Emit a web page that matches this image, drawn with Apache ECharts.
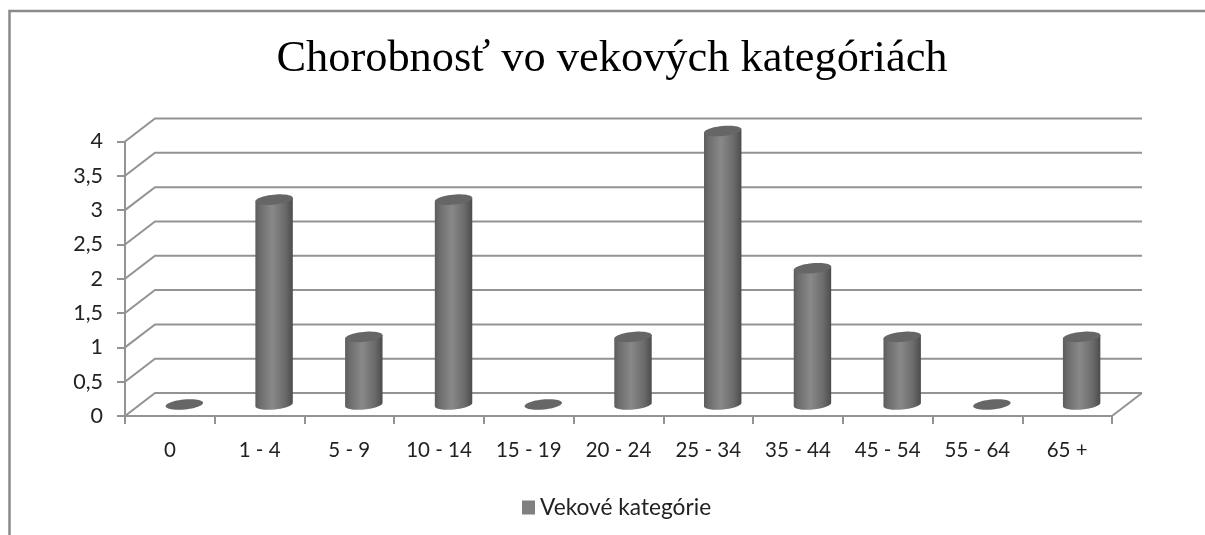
<!DOCTYPE html>
<html><head><meta charset="utf-8">
<style>html,body{margin:0;padding:0;background:#fff}#c{width:1205px;height:535px}</style>
<script src="https://cdn.jsdelivr.net/npm/echarts@6/dist/echarts.min.js"></script>
</head><body><div id="c"></div>
<script>
const categories = ['0','1 - 4','5 - 9','10 - 14','15 - 19','20 - 24','25 - 34','35 - 44','45 - 54','55 - 64','65 +'];
const values = [0,3,1,3,0,1,4,2,1,0,1];
const yTicks = [0,0.5,1,1.5,2,2.5,3,3.5,4];
const seriesName = 'Vekové kategórie';
const titleText = 'Chorobnosť vo vekových kategóriách';

const DEPTH_X = 30, DEPTH_Y = -23;
const LINE = '#939393';
const TILT = -5.5 * Math.PI / 180, RX = 18.8, RY = 5;
function ell(cx, cy, t) {
  const x = RX * Math.cos(t), y = RY * Math.sin(t);
  return [cx + x * Math.cos(TILT) - y * Math.sin(TILT), cy + x * Math.sin(TILT) + y * Math.cos(TILT)];
}
function renderWall(params, api) {
  const v = api.value(1);
  const y = api.coord([0, v])[1];
  const g = params.coordSys;
  const children = [{
    type: 'polyline',
    shape: { points: [[g.x, y], [g.x + DEPTH_X, y + DEPTH_Y], [g.x + g.width + DEPTH_X, y + DEPTH_Y]] },
    style: { fill: null, stroke: LINE, lineWidth: 2 }
  }];
  if (v === 0) {
    children.push({
      type: 'line',
      shape: { x1: g.x + g.width, y1: y, x2: g.x + g.width + DEPTH_X, y2: y + DEPTH_Y },
      style: { stroke: LINE, lineWidth: 2 }
    });
  }
  return { type: 'group', children };
}
function renderCyl(params, api) {
  const top = api.coord([api.value(0), api.value(1)]);
  const base = api.coord([api.value(0), 0]);
  const cx = top[0] + 14.5, topY = top[1] - 10.5, baseY = base[1] - 11.5;
  const children = [];
  if (baseY - topY > 0.5) {
    const pts = [ell(cx, topY, Math.PI)];
    for (let i = 0; i <= 32; i++) pts.push(ell(cx, baseY, Math.PI - Math.PI * i / 32));
    pts.push(ell(cx, topY, 0));
    children.push({
      type: 'polygon', shape: { points: pts },
      style: { fill: new echarts.graphic.LinearGradient(0, 0, 1, 0, [
        { offset: 0, color: '#5c5c5c' }, { offset: 0.12, color: '#6c6c6c' },
        { offset: 0.45, color: '#898989' }, { offset: 0.8, color: '#6a6a6a' },
        { offset: 1, color: '#4c4c4c' }]) }
    });
  }
  const cap = [];
  for (let i = 0; i < 48; i++) cap.push(ell(cx, Math.min(topY, baseY), 2 * Math.PI * i / 48));
  children.push({ type: 'polygon', shape: { points: cap }, style: { fill: '#666666' } });
  return { type: 'group', children };
}

const chart = echarts.init(document.getElementById('c'), null, { renderer: 'canvas' });
chart.setOption({
  animation: false,
  backgroundColor: '#fff',
  title: {
    text: titleText, left: 607, top: 32, textAlign: 'center',
    textStyle: { fontFamily: 'Liberation Serif', fontSize: 44.4, fontWeight: 'normal', color: '#000' }
  },
  legend: {
    data: [seriesName], left: 517, top: 491, icon: 'rect', itemWidth: 13, itemHeight: 14, itemGap: 7,
    textStyle: { fontFamily: 'Lato', fontSize: 22.7, color: '#222' }
  },
  grid: { left: 125, right: 93, top: 141.5, height: 274.5 },
  xAxis: {
    type: 'category', data: categories, boundaryGap: true,
    axisLine: { lineStyle: { color: LINE, width: 2 } },
    axisTick: { show: true, length: 8, alignWithLabel: false, lineStyle: { color: LINE, width: 2 } },
    axisLabel: { interval: 0, margin: 24, fontFamily: 'Lato', fontSize: 20.5, color: '#222' },
    splitLine: { show: false }
  },
  yAxis: {
    type: 'value', min: 0, max: 4, interval: 0.5,
    axisLine: { show: true, lineStyle: { color: LINE, width: 2 } },
    axisTick: { show: true, length: 8, lineStyle: { color: LINE, width: 2 } },
    axisLabel: { margin: 22, fontFamily: 'Lato', fontSize: 21.5, color: '#222',
      formatter: v => String(v).replace('.', ',') },
    splitLine: { show: false }
  },
  graphic: [{
    type: 'polyline', silent: true,
    shape: { points: [[9.5, 535], [9.5, 11], [1205, 11]] },
    style: { fill: null, stroke: '#8a8a8a', lineWidth: 2.5 }
  }],
  series: [
    { type: 'custom', name: 'wall', renderItem: renderWall, silent: true, z: 1,
      data: yTicks.map(v => [0, v]), encode: { x: 0, y: 1 } },
    { type: 'custom', name: seriesName, renderItem: renderCyl, z: 3,
      itemStyle: { color: '#808080' },
      data: values.map((v, i) => [i, v]), encode: { x: 0, y: 1 } }
  ]
});
</script></body></html>
